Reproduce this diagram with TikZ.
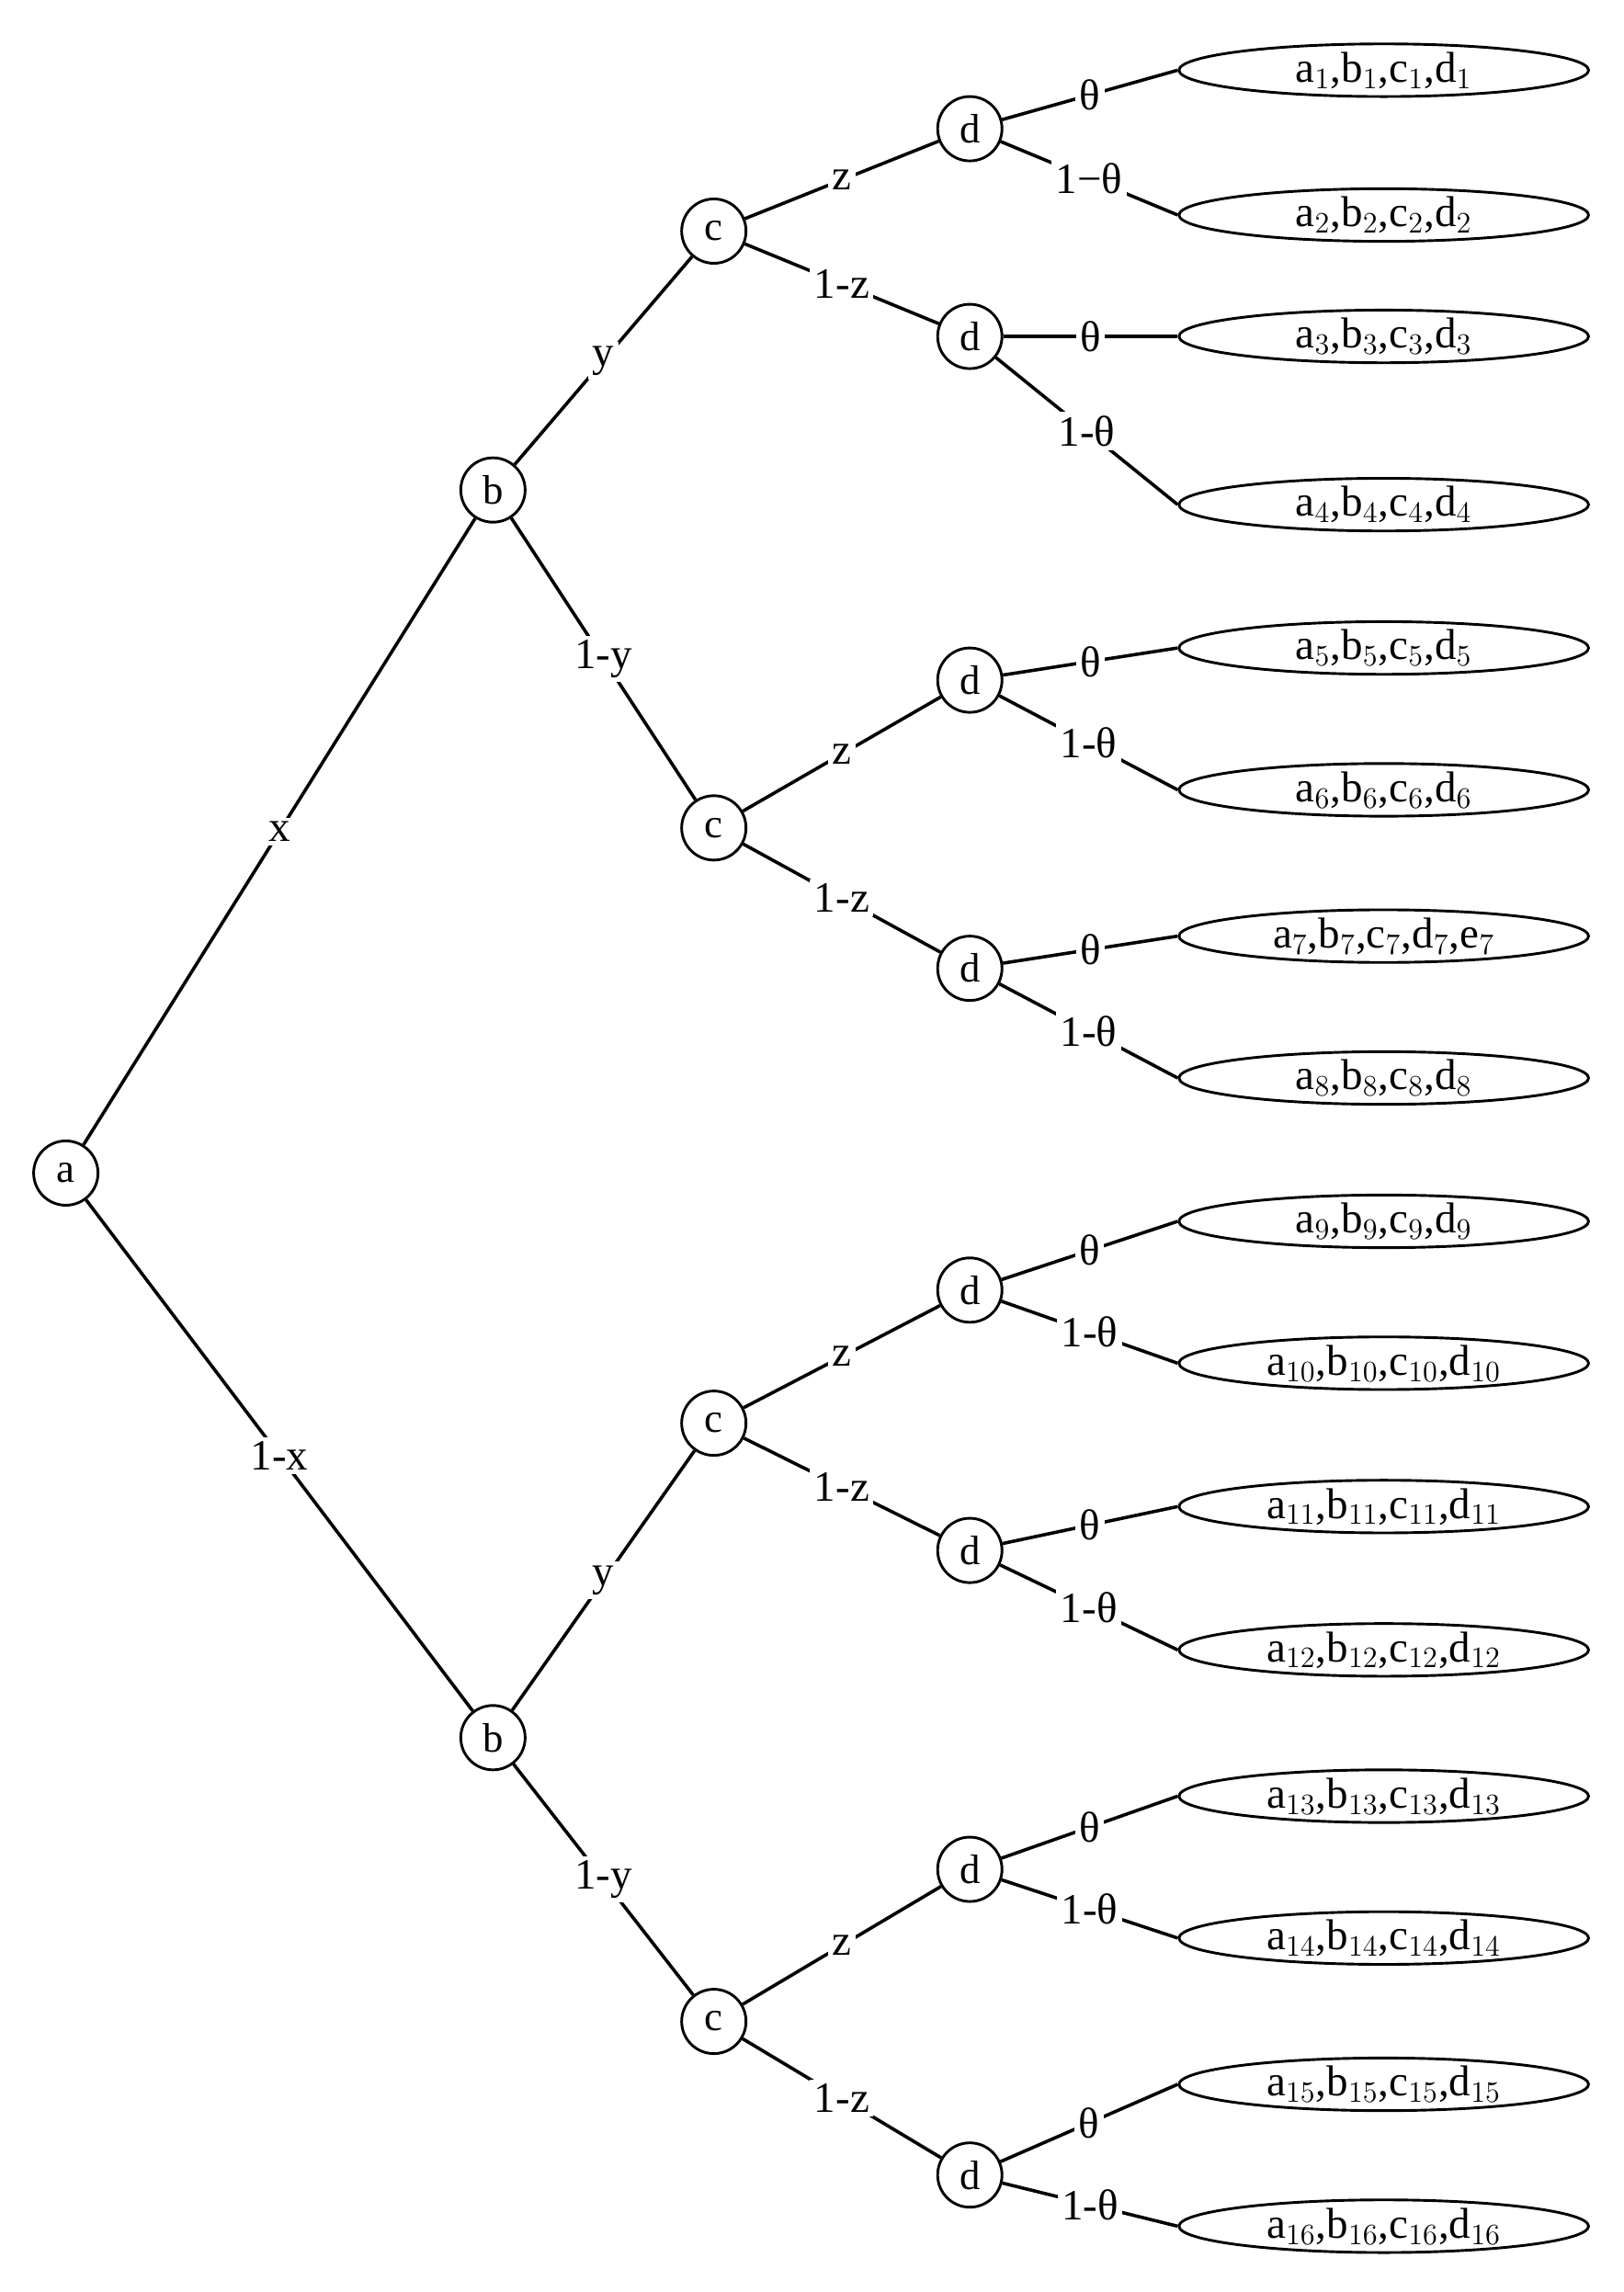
\documentclass[tikz,border=0pt]{standalone}
\usepackage{fontspec}
\setmainfont{Liberation Serif}
\usetikzlibrary{shapes.geometric}
\begin{document}
\begin{tikzpicture}[x=0.025cm,y=-0.025cm,
  st/.style={circle,draw,line width=1.3pt,minimum size=44*0.025cm,inner sep=0pt,font=\fontsize{20}{22}\selectfont},
  lf/.style={ellipse,draw,line width=1.3pt,minimum width=280*0.025cm,minimum height=36*0.025cm,inner sep=0pt,font=\fontsize{21}{23}\selectfont},
  e/.style={line width=1.6pt},
  lb/.style={midway,fill=white,inner sep=2pt,font=\fontsize{21}{23}\selectfont}]
\useasboundingbox (0,0) rectangle (1110,1567);
\node[st] (a) at (45,802) {a};
\node[st] (b1) at (337,335) {b};
\node[st] (b2) at (337,1188) {b};
\node[st] (c1) at (488,158) {c};
\node[st] (c2) at (488,566) {c};
\node[st] (c3) at (488,973) {c};
\node[st] (c4) at (488,1382) {c};
\foreach \i/\y in {1/88,2/230,3/465,4/662,5/882,6/1060,7/1278,8/1487}
  \node[st] (d\i) at (663,\y) {d};
\foreach \i/\y/\t in {1/48/{a$_1$,b$_1$,c$_1$,d$_1$},2/147/{a$_2$,b$_2$,c$_2$,d$_2$},3/230/{a$_3$,b$_3$,c$_3$,d$_3$},4/345/{a$_4$,b$_4$,c$_4$,d$_4$},5/443/{a$_5$,b$_5$,c$_5$,d$_5$},6/540/{a$_6$,b$_6$,c$_6$,d$_6$},7/640/{a$_7$,b$_7$,c$_7$,d$_7$,e$_7$},8/737/{a$_8$,b$_8$,c$_8$,d$_8$},9/835/{a$_9$,b$_9$,c$_9$,d$_9$},10/932/{a$_{10}$,b$_{10}$,c$_{10}$,d$_{10}$},11/1030/{a$_{11}$,b$_{11}$,c$_{11}$,d$_{11}$},12/1128/{a$_{12}$,b$_{12}$,c$_{12}$,d$_{12}$},13/1228/{a$_{13}$,b$_{13}$,c$_{13}$,d$_{13}$},14/1325/{a$_{14}$,b$_{14}$,c$_{14}$,d$_{14}$},15/1425/{a$_{15}$,b$_{15}$,c$_{15}$,d$_{15}$},16/1522/{a$_{16}$,b$_{16}$,c$_{16}$,d$_{16}$}}
  \node[lf] (l\i) at (946,\y) {\t};
\draw[e] (a) -- node[lb]{x} (b1);
\draw[e] (a) -- node[lb]{1-x} (b2);
\draw[e] (b1) -- node[lb]{y} (c1);
\draw[e] (b1) -- node[lb]{1-y} (c2);
\draw[e] (b2) -- node[lb]{y} (c3);
\draw[e] (b2) -- node[lb]{1-y} (c4);
\foreach \c/\p/\q in {1/1/2,2/3/4,3/5/6,4/7/8}{
  \draw[e] (c\c) -- node[lb]{z} (d\p);
  \draw[e] (c\c) -- node[lb]{1-z} (d\q);}
\draw[e] (d1) -- node[lb]{θ} (l1.west);
\draw[e] (d1) -- node[lb]{1−θ} (l2.west);
\foreach \d/\p/\q in {2/3/4,3/5/6,4/7/8,5/9/10,6/11/12,7/13/14,8/15/16}{
  \draw[e] (d\d) -- node[lb]{θ} (l\p.west);
  \draw[e] (d\d) -- node[lb]{1-θ} (l\q.west);}
\end{tikzpicture}
\end{document}
